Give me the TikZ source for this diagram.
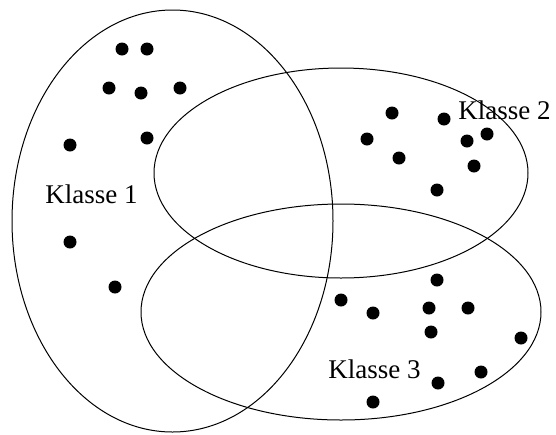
\documentclass[tikz,border=0pt]{standalone}
\usepackage{fontspec}
\setmainfont{Liberation Serif}
\usetikzlibrary{shapes}

\begin{document}
\begin{tikzpicture}[x=0.5pt, y=-0.5pt,
			klasse/.style={
					ellipse,
					draw,
					line width=0.5pt,
					inner sep=0pt
				},
			dot/.style={circle, fill=black, inner sep=0pt, minimum size=6.5pt},
			klassetext/.style={font=\fontsize{13.5}{16}\selectfont, inner sep=0pt, anchor=base west}
		]
		\useasboundingbox (0,0) rectangle (556,434);
		% Place the classes
		\node [klasse, minimum width=160.5pt, minimum height=211pt] (k1) at (172.5,221) {};
		\node [klasse, minimum width=187pt, minimum height=105pt] (k2) at (341,173) {};
		\node [klasse, minimum width=200pt, minimum height=108pt] (k3) at (341,312) {};
		\node [klassetext] (t1) at (45,203) {Klasse 1};
		\node [klassetext] (t2) at (458,119) {Klasse 2};
		\node [klassetext] (t3) at (328,378) {Klasse 3};
		% Place the points
		\foreach \x/\y [count=\i] in {122/49, 147/49, 109/88, 141/93, 180/88, 70/145, 147/138, 70/242, 115/287}
			\node [dot] (a\i) at (\x,\y) {};
		\foreach \x/\y [count=\i] in {392/113, 444/119, 367/139, 467/141, 487/134, 399/158, 474/166, 437/190}
			\node [dot] (b\i) at (\x,\y) {};
		\foreach \x/\y [count=\i] in {437/280, 341/300, 373/313, 429/308, 468/308, 431/332, 521/338, 481/372, 438/383, 373/402}
			\node [dot] (c\i) at (\x,\y) {};
	\end{tikzpicture}
\end{document}
